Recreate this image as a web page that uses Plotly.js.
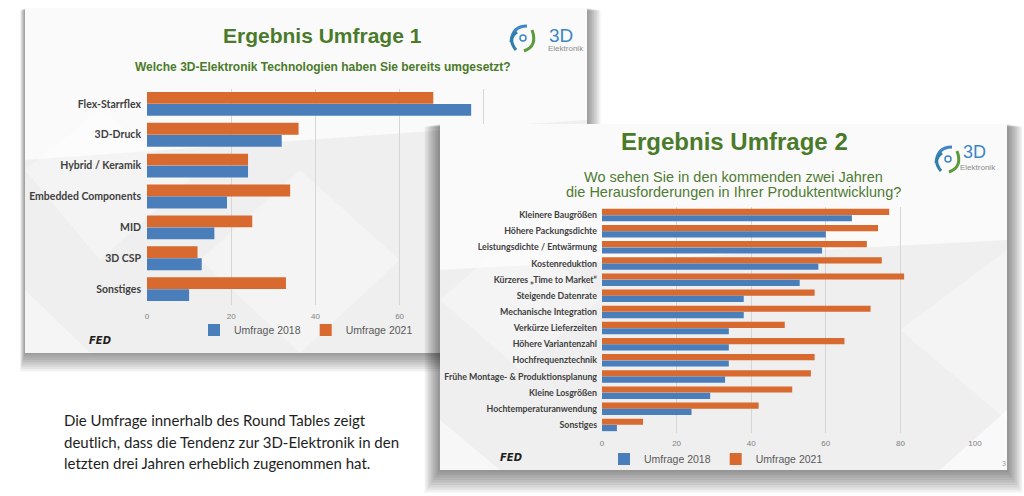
<!DOCTYPE html>
<html><head><meta charset="utf-8">
<script src="https://cdn.plot.ly/plotly-3.0.1.min.js"></script>
<style>html,body{margin:0;padding:0;background:#fff;}#chart{width:1024px;height:496px;}</style>
</head><body><div id="chart"></div>
<script>
// ---------- data ----------
const categories1 = ['Flex-Starrflex','3D-Druck','Hybrid / Keramik','Embedded Components','MID','3D CSP','Sonstiges'];
const survey1_2018 = [77,32,24,19,16,13,10];
const survey1_2021 = [68,36,24,34,25,12,33];

const categories2 = ['Kleinere Baugrößen','Höhere Packungsdichte','Leistungsdichte / Entwärmung','Kostenreduktion','Kürzeres „Time to Market“','Steigende Datenrate','Mechanische Integration','Verkürze Lieferzeiten','Höhere Variantenzahl','Hochfrequenztechnik','Frühe Montage- & Produktionsplanung','Kleine Losgrößen','Hochtemperaturanwendung','Sonstiges'];
const survey2_2018 = [67,60,59,58,53,38,38,34,34,34,33,29,24,4];
const survey2_2021 = [77,74,71,75,81,57,72,49,65,57,56,51,42,11];

const seriesNames = ['Umfrage 2018','Umfrage 2021'];
const xTicks = [0,20,40,60,80,100];
// chart 1: the labels 80 and 100 lie under the second slide
const xTickText1 = ['0','20','40','60','',''];
const xTickText2 = ['0','20','40','60','80','100'];

const title1 = 'Ergebnis Umfrage 1';
const subtitle1 = 'Welche 3D-Elektronik Technologien haben Sie bereits umgesetzt?';
const title2 = 'Ergebnis Umfrage 2';
const subtitle2 = ['Wo sehen Sie in den kommenden zwei Jahren','die Herausforderungen in Ihrer Produktentwicklung?'];
const paragraph = ['Die Umfrage innerhalb des Round Tables zeigt','deutlich, dass die Tendenz zur 3D-Elektronik in den','letzten drei Jahren erheblich zugenommen hat.'];

// ---------- styling ----------
const BLUE='#4a7ebb', ORANGE='#d8692f', GREEN='#4a7a2a', SUBGREEN='#4f7b33';
const W=1024, H=496;
const fx=p=>p/W, fy=p=>1-p/H;
const P=(x,y)=>fx(x)+','+fy(y);

const shapes=[];
// slide 1 shadow + background (paper, lowest layer)
for(let i=8;i>=1;i--){
  shapes.push({type:'rect',xref:'paper',yref:'paper',layer:'below',
    x0:fx(25-0.6*i),x1:fx(587+1.7*i),y0:fy(353+2.3*i),y1:fy(8+0.3*i),
    fillcolor:'rgba(0,0,0,0.055)',line:{width:0}});
}
shapes.push({type:'rect',xref:'paper',yref:'paper',layer:'below',x0:fx(25),x1:fx(587),y0:fy(353),y1:fy(8),fillcolor:'#efefef',line:{width:0}});
function polyPaper(pts,color){
  shapes.push({type:'path',xref:'paper',yref:'paper',layer:'below',
    path:'M '+pts.map(p=>P(p[0],p[1])).join(' L ')+' Z',fillcolor:color,line:{width:0}});
}
polyPaper([[25,8],[587,8],[587,120],[25,160]],'rgba(255,255,255,0.65)');
polyPaper([[25,170],[100,110],[190,180],[100,260]],'rgba(255,255,255,0.35)');
polyPaper([[200,260],[300,170],[400,260],[300,353]],'rgba(255,255,255,0.3)');
polyPaper([[25,290],[90,353],[25,353]],'rgba(255,255,255,0.4)');
// logo 1 icon
function logoPaper(cx,cy){
  const strokes=[
    ['#3f86c6',[[cx-12,cy+4],[cx-11,cy-12],[cx+4,cy-12]]],
    ['#5a9a3a',[[cx+9,cy-8],[cx+15,cy+8],[cx+1,cy+13]]],
    ['#2f7fa8',[[cx-7,cy+12],[cx-16,cy+1],[cx-6,cy-6]]]
  ];
  strokes.forEach(s=>shapes.push({type:'path',xref:'paper',yref:'paper',layer:'below',
    path:'M '+P(...s[1][0])+' Q '+P(...s[1][1])+' '+P(...s[1][2]),line:{color:s[0],width:3}}));
  shapes.push({type:'circle',xref:'paper',yref:'paper',layer:'below',x0:fx(cx-3),x1:fx(cx+3),y0:fy(cy+3),y1:fy(cy-3),line:{color:'#3f86c6',width:1.5}});
}
logoPaper(523,38);

// slide 2: drawn in helper subplot x2y2 (pixel units) so it covers chart 1
function rect2(x0,y0,x1,y1,color){
  shapes.push({type:'rect',xref:'x2',yref:'y2',layer:'below',x0,x1,y0,y1,fillcolor:color,line:{width:0}});
}
for(let i=9;i>=1;i--){ rect2(440-1.7*i,124+0.3*i,1007+1.7*i,470+2.5*i,'rgba(0,0,0,0.055)'); }
rect2(440,124,1007,470,'#efefef');
function poly2(pts,color){
  shapes.push({type:'path',xref:'x2',yref:'y2',layer:'below',
    path:'M '+pts.map(p=>p[0]+','+p[1]).join(' L ')+' Z',fillcolor:color,line:{width:0}});
}
poly2([[440,124],[1007,124],[1007,240],[440,270]],'rgba(255,255,255,0.65)');
poly2([[440,300],[520,230],[600,300],[520,370]],'rgba(255,255,255,0.3)');
poly2([[440,420],[500,470],[440,470]],'rgba(255,255,255,0.5)');
poly2([[900,330],[1007,250],[1007,420]],'rgba(255,255,255,0.3)');
poly2([[940,470],[1007,410],[1007,470]],'rgba(255,255,255,0.6)');
(function(cx,cy){
  const strokes=[
    ['#3f86c6',[[cx-12,cy+4],[cx-11,cy-12],[cx+4,cy-12]]],
    ['#5a9a3a',[[cx+9,cy-8],[cx+15,cy+8],[cx+1,cy+13]]],
    ['#2f7fa8',[[cx-7,cy+12],[cx-16,cy+1],[cx-6,cy-6]]]
  ];
  strokes.forEach(s=>shapes.push({type:'path',xref:'x2',yref:'y2',layer:'below',
    path:'M '+s[1][0].join(',')+' Q '+s[1][1].join(',')+' '+s[1][2].join(','),line:{color:s[0],width:3}}));
  shapes.push({type:'circle',xref:'x2',yref:'y2',layer:'below',x0:cx-3,x1:cx+3,y0:cy-3,y1:cy+3,line:{color:'#3f86c6',width:1.5}});
})(948,159);

// ---------- traces ----------
const catFont1={family:'Lato',size:10.5,color:'#404040',weight:700};
const catFont2={family:'Lato',size:8.8,color:'#404040',weight:700};
const tickFont={family:'Liberation Sans',size:8,color:'#808080'};

const traces=[
  {type:'bar',orientation:'h',y:categories1,x:survey1_2021,name:seriesNames[1],marker:{color:ORANGE},xaxis:'x',yaxis:'y',legend:'legend',hoverinfo:'skip'},
  {type:'bar',orientation:'h',y:categories1,x:survey1_2018,name:seriesNames[0],marker:{color:BLUE},xaxis:'x',yaxis:'y',legend:'legend',hoverinfo:'skip'},
  {type:'bar',orientation:'h',y:categories2,x:survey2_2021,name:seriesNames[1],marker:{color:ORANGE},xaxis:'x3',yaxis:'y3',legend:'legend2',hoverinfo:'skip'},
  {type:'bar',orientation:'h',y:categories2,x:survey2_2018,name:seriesNames[0],marker:{color:BLUE},xaxis:'x3',yaxis:'y3',legend:'legend2',hoverinfo:'skip'}
];

const ann=[];
function A(text,x,y,font,xanchor){ ann.push({text,x:fx(x),y:fy(y),xref:'paper',yref:'paper',showarrow:false,xanchor:xanchor||'center',yanchor:'middle',font}); }
A('<b>'+title1+'</b>',322,35,{family:'Liberation Sans',size:21,color:GREEN});
A('<b>'+subtitle1+'</b>',323,67,{family:'Liberation Sans',size:12,color:GREEN});
A('3D',561,35,{family:'Liberation Sans',size:19,color:'#3d86c6'});
A('Elektronik',566,48,{family:'Liberation Sans',size:8,color:'#8a8a8a'});
A('<b><i>FED</i></b>',100,340,{family:'DejaVu Sans',size:10,color:'#1e1e1e'});
A('<b>'+title2+'</b>',734,141,{family:'Liberation Sans',size:24,color:GREEN});
A(subtitle2[0],733,177,{family:'Liberation Sans',size:14.5,color:SUBGREEN});
A(subtitle2[1],733,192,{family:'Liberation Sans',size:14.5,color:SUBGREEN});
A('3D',974,152,{family:'Liberation Sans',size:18,color:'#3d86c6'});
A('Elektronik',978,167,{family:'Liberation Sans',size:8,color:'#8a8a8a'});
A('<b><i>FED</i></b>',511,457,{family:'DejaVu Sans',size:10,color:'#1e1e1e'});
A('3',1004,463,{family:'Liberation Sans',size:7,color:'#999'});
paragraph.forEach((t,i)=>A(t,62,420+i*21.5,{family:'Lato',size:15,color:'#1e1e1e'},'left'));

const layout={
  width:W,height:H,margin:{l:0,r:0,t:0,b:0},
  paper_bgcolor:'#ffffff',plot_bgcolor:'rgba(0,0,0,0)',
  barmode:'group',bargap:0.22,bargroupgap:0.02,
  showlegend:true,
  xaxis:{domain:[fx(147),fx(568)],range:[0,100],tickvals:xTicks,ticktext:xTickText1,showgrid:true,gridcolor:'#d6d6d6',gridwidth:1,zeroline:false,showline:false,ticks:'',ticklabelstandoff:5,tickfont:tickFont,anchor:'y',fixedrange:true},
  yaxis:{domain:[fy(304.5),fy(88.5)],type:'category',autorange:'reversed',showgrid:false,zeroline:false,ticks:'',ticklabelstandoff:5,tickfont:catFont1,anchor:'x',fixedrange:true},
  xaxis2:{domain:[fx(418),1],range:[418,1024],visible:false,anchor:'y2',fixedrange:true},
  yaxis2:{domain:[0,fy(112)],range:[496,112],visible:false,anchor:'x2',fixedrange:true},
  xaxis3:{domain:[fx(602),fx(975)],range:[0,100],tickvals:xTicks,ticktext:xTickText2,showgrid:true,gridcolor:'#d6d6d6',gridwidth:1,zeroline:false,showline:false,ticks:'',ticklabelstandoff:4,tickfont:tickFont,anchor:'y3',fixedrange:true},
  yaxis3:{domain:[fy(433),fy(207)],type:'category',autorange:'reversed',showgrid:false,zeroline:false,ticks:'',ticklabelstandoff:4,tickfont:catFont2,anchor:'x3',fixedrange:true},
  legend:{orientation:'h',x:fx(306),y:fy(330),xanchor:'center',yanchor:'middle',traceorder:'reversed',bgcolor:'rgba(0,0,0,0)',font:{family:'Liberation Sans',size:10.5,color:'#595959'}},
  legend2:{orientation:'h',x:fx(716),y:fy(459),xanchor:'center',yanchor:'middle',traceorder:'reversed',bgcolor:'rgba(0,0,0,0)',font:{family:'Liberation Sans',size:10.5,color:'#595959'}},
  shapes:shapes,
  annotations:ann
};
Plotly.newPlot('chart',traces,layout,{displayModeBar:false,staticPlot:true});
</script></body></html>
